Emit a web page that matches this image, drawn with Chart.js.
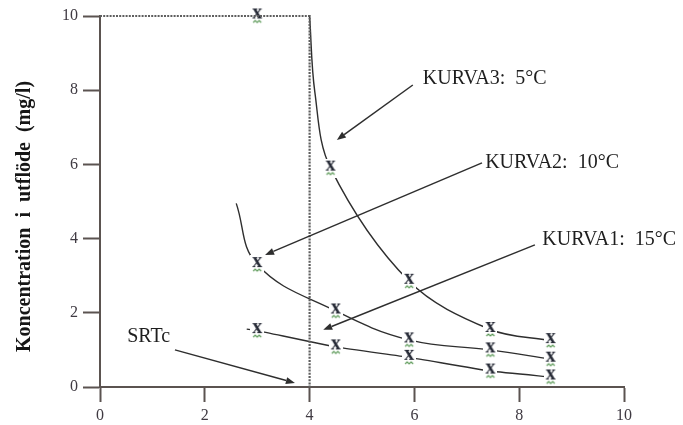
<!DOCTYPE html>
<html>
<head>
<meta charset="utf-8">
<script src="https://cdn.jsdelivr.net/npm/chart.js@4.4.1/dist/chart.umd.min.js"></script>
<style>
  html, body { margin: 0; padding: 0; background: #fff; }
  canvas { display: block; }
</style>
</head>
<body>
<canvas id="srtChart" width="683" height="425"></canvas>
<script>
// values (SRT on x, concentration on y)
const kurva1X = [2.8, 3.0, 4.5, 5.9, 7.45, 8.6];
const kurva1Y = [1.56, 1.52, 1.08, 0.8, 0.43, 0.27];
const kurva1Marked = [false, true, true, true, true, true];

const kurva2X = [2.6, 3.0, 4.5, 5.9, 7.45, 8.6];
const kurva2Y = [4.95, 3.3, 2.05, 1.27, 1.0, 0.75];
const kurva2Marked = [false, true, true, true, true, true];

const kurva3X = [4.0, 4.1, 4.4, 5.9, 7.45, 8.6];
const kurva3Y = [10, 7.95, 5.9, 2.85, 1.55, 1.25];
const kurva3Marked = [false, false, true, true, true, true];

const washoutX = [3.0];
const washoutY = [10];

// dashed frame: inflow level and SRTc
const frameX = [0, 4, 4];
const frameY = [10, 10, 0];

const xTicks = [0, 2, 4, 6, 8, 10];
const yTicks = [0, 2, 4, 6, 8, 10];

const yTitle = "Koncentration  i  utflöde  (mg/l)";

// callout texts and arrows, in data units
const noteText = ["KURVA3:  5°C", "KURVA2:  10°C", "KURVA1:  15°C", "SRTc"];
const noteAt = [[6.16, 8.3], [7.35, 6.04], [8.44, 3.96], [0.52, 1.35]];
const arrowFrom = [[5.97, 8.14], [7.29, 6.04], [8.3, 3.83], [1.43, 1.0]];
const arrowTo = [[4.52, 6.66], [3.15, 3.56], [4.26, 1.54], [3.72, 0.11]];

const SERIF = "'Liberation Serif', 'DejaVu Serif', serif";
const INK = "#2e2e2e";
const AXIS = "#5b5350";

function toPoints(xs, ys) {
  return xs.map((x, i) => ({ x, y: ys[i] }));
}

// the "x" glyph used as point marker, on a white patch so lines stop short of it
function makeMarker() {
  const c = document.createElement("canvas");
  c.width = 14;
  c.height = 19;
  const g = c.getContext("2d");
  g.fillStyle = "#fff";
  g.fillRect(0, 0, c.width, c.height);
  g.font = "bold 20px " + SERIF;
  g.textAlign = "center";
  g.textBaseline = "middle";
  g.fillStyle = "#262a36";
  g.fillText("x", 7, 6.5);
  g.strokeStyle = "#5c9a58";
  g.lineWidth = 1.2;
  g.beginPath();
  g.moveTo(3, 16);
  g.lineTo(5, 14);
  g.lineTo(7, 16);
  g.lineTo(9, 14);
  g.lineTo(11, 16);
  g.stroke();
  return c;
}
const marker = makeMarker();

function curve(xs, ys, marked, tension) {
  return {
    data: toPoints(xs, ys),
    showLine: true,
    clip: false,
    borderColor: INK,
    borderWidth: 1.4,
    tension,
    pointStyle: marker,
    pointRadius: marked.map((m) => (m ? 5 : 0)),
  };
}

const notesPlugin = {
  id: "notes",
  afterDatasetsDraw(chart) {
    const { ctx, scales } = chart;
    const sx = scales.x, sy = scales.y;
    ctx.save();
    ctx.strokeStyle = INK;
    ctx.fillStyle = INK;
    ctx.lineWidth = 1.5;
    arrowFrom.forEach((a, i) => {
      const x0 = sx.getPixelForValue(a[0]), y0 = sy.getPixelForValue(a[1]);
      const x1 = sx.getPixelForValue(arrowTo[i][0]), y1 = sy.getPixelForValue(arrowTo[i][1]);
      const ang = Math.atan2(y1 - y0, x1 - x0);
      const len = 9, half = 3.5;
      const bx = x1 - len * Math.cos(ang), by = y1 - len * Math.sin(ang);
      ctx.beginPath();
      ctx.moveTo(x0, y0);
      ctx.lineTo(bx, by);
      ctx.stroke();
      ctx.beginPath();
      ctx.moveTo(x1, y1);
      ctx.lineTo(bx + half * Math.sin(ang), by - half * Math.cos(ang));
      ctx.lineTo(bx - half * Math.sin(ang), by + half * Math.cos(ang));
      ctx.closePath();
      ctx.fill();
    });
    ctx.font = "20px " + SERIF;
    ctx.textAlign = "left";
    ctx.textBaseline = "middle";
    ctx.fillStyle = "#1e1e1e";
    noteText.forEach((t, i) => {
      ctx.fillText(t, sx.getPixelForValue(noteAt[i][0]), sy.getPixelForValue(noteAt[i][1]));
    });
    // y axis title
    const cy = (sy.top + sy.bottom) / 2 + 15;
    ctx.translate(25, cy);
    ctx.rotate(-Math.PI / 2);
    ctx.textAlign = "center";
    ctx.font = "bold 20px " + SERIF;
    ctx.fillStyle = "#161616";
    ctx.fillText(yTitle, 0, 0);
    ctx.restore();
  },
};

new Chart(document.getElementById("srtChart").getContext("2d"), {
  type: "scatter",
  data: {
    datasets: [
      {
        data: toPoints(frameX, frameY),
        showLine: true,
        clip: false,
        borderColor: "#5e5e5e",
        borderWidth: 2.2,
        borderDash: [2, 1.2],
        pointRadius: 0,
      },
      curve(kurva1X, kurva1Y, kurva1Marked, 0.15),
      curve(kurva2X, kurva2Y, kurva2Marked, 0.4),
      curve(kurva3X, kurva3Y, kurva3Marked, 0.35),
      {
        data: toPoints(washoutX, washoutY),
        clip: false,
        pointStyle: marker,
        pointRadius: 5,
      },
    ],
  },
  options: {
    responsive: false,
    animation: false,
    layout: { padding: { top: 16, right: 59, bottom: 0, left: 0 } },
    plugins: {
      legend: { display: false },
      tooltip: { enabled: false },
    },
    scales: {
      x: {
        type: "linear",
        min: 0,
        max: 10,
        afterFit: (scale) => { scale.height = 38; },
        afterBuildTicks: (scale) => { scale.ticks = xTicks.map((v) => ({ value: v })); },
        ticks: {
          padding: 4,
          color: "#3f3a42",
          font: { family: SERIF, size: 16 },
        },
        grid: {
          drawOnChartArea: false,
          drawTicks: true,
          tickLength: 15,
          tickWidth: 2,
          tickColor: AXIS,
        },
        border: { color: AXIS, width: 2 },
      },
      y: {
        min: 0,
        max: 10,
        afterFit: (scale) => { scale.width = 100; },
        afterBuildTicks: (scale) => { scale.ticks = yTicks.map((v) => ({ value: v })); },
        ticks: {
          padding: 5,
          color: "#3f3a42",
          font: { family: SERIF, size: 16 },
        },
        grid: {
          drawOnChartArea: false,
          drawTicks: true,
          tickLength: 17,
          tickWidth: 2,
          tickColor: AXIS,
        },
        border: { color: AXIS, width: 2 },
      },
    },
  },
  plugins: [notesPlugin],
});
</script>
</body>
</html>
